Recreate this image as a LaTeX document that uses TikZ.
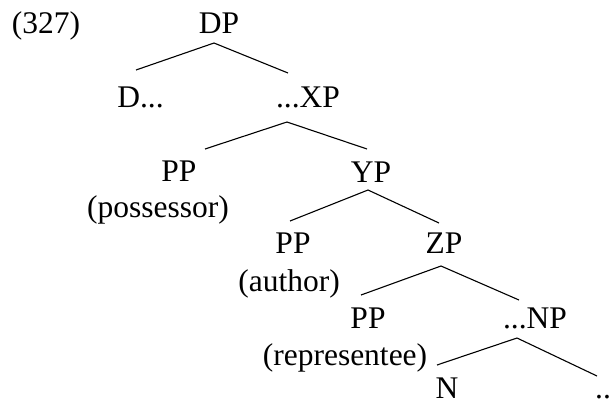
\documentclass[tikz,border=0pt]{standalone}
\usepackage{fontspec}
\setmainfont{Liberation Serif}
\usepackage{tikz}
\usetikzlibrary{calc}

\begin{document}
\begin{tikzpicture}[x=1pt,y=-1pt,
    every node/.style={anchor=base,inner sep=0pt,font=\fontsize{31.5}{37}\selectfont},
    branch/.style={line width=1.1pt}]
  \useasboundingbox (0,0) rectangle (612,405);
  \draw (46,33) node (num) {(327)};
  \draw (219,33) node (dp) {DP};
      \draw (140.5,107) node (d) {D...};
      \draw (308,107) node (xp) {...XP};
  \draw (179,181) node (pp1) {PP};
  \draw (158,217) node (poss) {(possessor)};
      \draw (371,182) node (yp) {YP};
  \draw (293,253) node (pp2) {PP};
  \draw (289,291) node (auth) {(author)};
      \draw (444,253) node (zp) {ZP};
  \draw (368,328) node (pp3) {PP};
  \draw (345,365) node (repr) {(representee)};
      \draw (535,328) node (np) {...NP};
  \draw (447,398) node (n) {N};
      \draw (603,398) node (rest) {..};
     % branches
     \draw[branch] ($(d.base)+(-4.5,-37)$) -- ($(dp.base)+(-5,10)$) -- ($(xp.base)+(-20,-34)$);
     \draw[branch] ($(pp1.base)+(26,-32)$) -- ($(xp.base)+(-21,15)$) -- ($(yp.base)+(-4,-33)$);
     \draw[branch] ($(pp2.base)+(-3,-32)$) -- ($(yp.base)+(-3,8)$) -- ($(zp.base)+(-5,-30)$);
     \draw[branch] ($(pp3.base)+(-7,-33)$) -- ($(zp.base)+(-3,13)$) -- ($(np.base)+(-16,-28)$);
     \draw[branch] ($(n.base)+(-10,-33)$) -- ($(np.base)+(-18,10)$) -- ($(rest.base)+(-6,-22)$);
\end{tikzpicture}
\end{document}
